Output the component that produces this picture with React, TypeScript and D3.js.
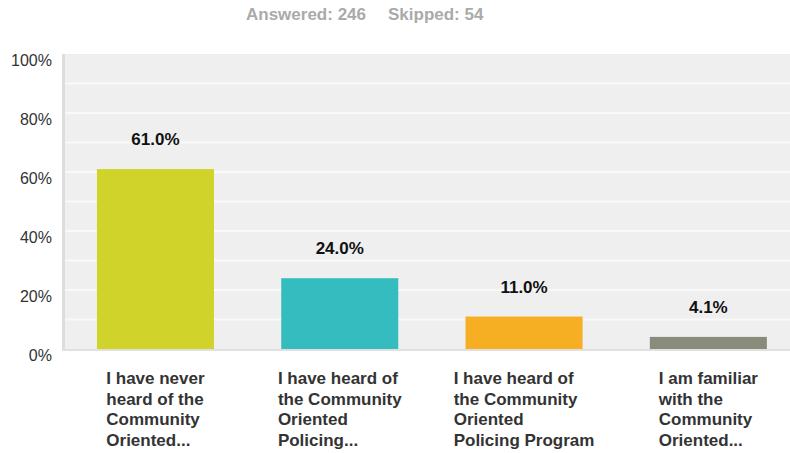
import React from "react";
import * as d3 from "d3";

const categories: string[][] = [
  ["I have never", "heard of the", "Community", "Oriented..."],
  ["I have heard of", "the Community", "Oriented", "Policing..."],
  ["I have heard of", "the Community", "Oriented", "Policing Program"],
  ["I am familiar", "with the", "Community", "Oriented..."],
];
const values: number[] = [61.0, 24.0, 11.0, 4.1];
const colors: string[] = ["#d0d32a", "#35bcbf", "#f6ae22", "#8a8c7b"];
const yTicks: number[] = [0, 20, 40, 60, 80, 100];
const gridTicks: number[] = [10, 20, 30, 40, 50, 60, 70, 80, 90];
const answered = 246;
const skipped = 54;

const W = 790;
const H = 453;
const FONT = "Arial, 'Liberation Sans', sans-serif";

function measure(text: string, font: string): number {
  if (typeof document === "undefined") return text.length * 8;
  const c = document.createElement("canvas");
  const ctx = c.getContext("2d")!;
  ctx.font = font;
  return ctx.measureText(text).width;
}

export default function App() {
  const left = 63.3;
  const step = 184.3;
  const x = d3
    .scaleBand<number>()
    .domain(d3.range(values.length))
    .range([left, left + step * values.length])
    .paddingInner(0.365)
    .paddingOuter(0.1825);
  const y = d3.scaleLinear().domain([0, 100]).range([349, 54]);
  const plotRight = W;

  const labelFont = `bold 17px ${FONT}`;

  return (
    <svg
      width={W}
      height={H}
      style={{ position: "absolute", left: 0, top: 0, background: "#fff" }}
      fontFamily={FONT}
    >
      <text x={246} y={20} fontSize={17} fontWeight="bold" fill="#aaaaaa">
        Answered: {answered}
      </text>
      <text x={388} y={20} fontSize={17} fontWeight="bold" fill="#aaaaaa">
        Skipped: {skipped}
      </text>
      <rect x={65} y={y(100)} width={plotRight - 65} height={y(0) - y(100)} fill="#efefef" />
      {gridTicks.map((t) => (
        <line key={t} x1={65} x2={plotRight} y1={y(t)} y2={y(t)} stroke="#f9f9f9" strokeWidth={2} />
      ))}
      <rect x={62} y={y(100)} width={3} height={y(0) - y(100) + 2} fill="#dddddd" />
      <rect x={62} y={y(0)} width={plotRight - 62} height={2} fill="#e0e0e0" />
      {yTicks.map((t) => (
        <text key={t} x={52} y={y(t) + 11.5} fontSize={16} fill="#333" textAnchor="end">
          {t}%
        </text>
      ))}
      {values.map((v, i) => {
        const bx = x(i)!;
        const bw = x.bandwidth();
        return (
          <g key={i}>
            <rect x={bx} y={y(v)} width={bw} height={y(0) - y(v)} fill={colors[i]} />
            <text
              x={bx + bw / 2}
              y={y(v) - 24}
              fontSize={17}
              fontWeight="bold"
              fill="#111"
              textAnchor="middle"
            >
              {v.toFixed(1)}%
            </text>
          </g>
        );
      })}
      {categories.map((lines, i) => {
        const cx = x(i)! + x.bandwidth() / 2;
        const maxW = Math.max(...lines.map((l) => measure(l, labelFont)));
        const lx = cx - maxW / 2;
        return (
          <text key={i} fontSize={17} fontWeight="bold" fill="#333">
            {lines.map((l, j) => (
              <tspan key={j} x={lx} y={384 + j * 20.7}>
                {l}
              </tspan>
            ))}
          </text>
        );
      })}
    </svg>
  );
}
